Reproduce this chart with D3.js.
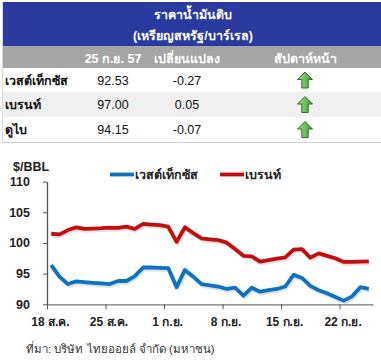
<!DOCTYPE html>
<html>
<head>
<meta charset="utf-8">
<script src="https://cdn.jsdelivr.net/npm/d3@7"></script>
<style>
  body { margin: 0; background: #fff; }
  svg { display: block; font-family: Tahoma, Arial, "Liberation Sans", sans-serif; }
</style>
</head>
<body>
<svg id="chart" width="381" height="362"></svg>
<script>
// table data
const tableHead = ["25 ก.ย. 57", "เปลี่ยนแปลง", "สัปดาห์หน้า"];
const tableNames = ["เวสต์เท็กซัส", "เบรนท์", "ดูไบ"];
const tablePrice = ["92.53", "97.00", "94.15"];
const tableChange = ["-0.27", "0.05", "-0.07"];
const tableTrend = ["up", "up", "up"];

// chart data: daily, 18 Aug - 25 Sep 2014
const startDay = new Date(2014, 7, 18);
const endDay = new Date(2014, 8, 26);
const wti = [96.4, 94.5, 93.3, 93.75, 93.6, 93.5, 93.4, 93.3, 93.8, 93.8,
             94.6, 96.0, 96.0, 95.95, 95.9, 92.8, 95.6, 94.5, 93.3, 93.1,
             92.9, 92.5, 92.7, 91.4, 92.7, 92.05, 92.3, 92.5, 92.9, 94.8,
             94.3, 93.0, 92.3, 91.8, 91.2, 90.6, 91.3, 92.8, 92.53];
const brent = [101.5, 101.4, 102.1, 102.55, 102.3, 102.35, 102.4, 102.5, 102.45, 102.65,
               102.3, 103.1, 103.0, 102.9, 102.65, 100.2, 102.55, 101.6, 100.75, 100.6,
               100.45, 100.05, 99.0, 97.9, 97.8, 96.95, 97.2, 97.45, 97.65, 98.9,
               99.0, 97.6, 98.3, 97.9, 97.5, 96.9, 96.9, 96.95, 97.0];
const yTicks = [90, 95, 100, 105, 110];
const xTickDates = [new Date(2014, 7, 18), new Date(2014, 7, 25), new Date(2014, 8, 1),
                    new Date(2014, 8, 8), new Date(2014, 8, 15), new Date(2014, 8, 22)];
const xTickLabels = ["18 ส.ค.", "25 ส.ค.", "1 ก.ย.", "8 ก.ย.", "15 ก.ย.", "22 ก.ย."];
const seriesNames = ["เวสต์เท็กซัส", "เบรนท์"];
const seriesColors = ["#0b72c4", "#c40d0d"];

const svg = d3.select("#chart");

// #Table
{
    const left = 2, right = 381
        , colX = [113, 187, 305]
        , rowY = [68, 92, 117, 142];

    svg.append("rect")
        .attr("x", left).attr("y", 2)
        .attr("width", right - left).attr("height", 44)
        .attr("fill", "#2b3a9e");
    svg.append("rect")
        .attr("x", left).attr("y", 46)
        .attr("width", right - left).attr("height", 22)
        .attr("fill", "#a5a5a5");
    svg.append("rect")
        .attr("x", left).attr("y", rowY[1])
        .attr("width", right - left).attr("height", rowY[2] - rowY[1])
        .attr("fill", "#f0f0f0");
    svg.append("line")
        .attr("x1", left).attr("x2", right)
        .attr("y1", 142.5).attr("y2", 142.5)
        .attr("stroke", "#cfcfcf");
    svg.append("line")
        .attr("x1", left + 0.5).attr("x2", left + 0.5)
        .attr("y1", 2).attr("y2", 143)
        .attr("stroke", "#d8d8d8");

    const title = svg.append("g")
        .attr("fill", "#fff")
        .attr("font-weight", "bold")
        .attr("font-size", 12.5)
        .attr("text-anchor", "middle");
    title.append("text").attr("x", 193).attr("y", 19).text("ราคาน้ำมันดิบ");
    title.append("text").attr("x", 193).attr("y", 40).text("(เหรียญสหรัฐ/บาร์เรล)");

    svg.selectAll(".head")
        .data(tableHead)
        .enter().append("text")
        .attr("class", "head")
        .attr("x", (d, i) => colX[i])
        .attr("y", 63)
        .attr("text-anchor", "middle")
        .attr("fill", "#fff")
        .attr("font-weight", "bold")
        .attr("font-size", 12.5)
        .text(d => d);

    const rows = svg.selectAll(".row")
        .data(tableNames)
        .enter().append("g")
        .attr("class", "row")
        .attr("transform", (d, i) => "translate(0," + ((rowY[i] + rowY[i + 1]) / 2) + ")");
    rows.append("text")
        .attr("x", 5).attr("y", 4.5)
        .attr("font-weight", "bold").attr("font-size", 12.5)
        .attr("fill", "#111")
        .text(d => d);
    rows.append("text")
        .attr("x", colX[0]).attr("y", 4.5)
        .attr("text-anchor", "middle").attr("font-size", 12.5)
        .attr("fill", "#111")
        .text((d, i) => tablePrice[i]);
    rows.append("text")
        .attr("x", colX[1]).attr("y", 4.5)
        .attr("text-anchor", "middle").attr("font-size", 12.5)
        .attr("fill", "#111")
        .text((d, i) => tableChange[i]);

    // green arrows
    const defs = svg.append("defs");
    const grad = defs.append("linearGradient")
        .attr("id", "arrowGrad")
        .attr("x1", 0).attr("x2", 1).attr("y1", 0).attr("y2", 0);
    grad.append("stop").attr("offset", "0%").attr("stop-color", "#a6dc8e");
    grad.append("stop").attr("offset", "100%").attr("stop-color", "#3f9c3a");
    rows.filter((d, i) => tableTrend[i] === "up")
        .append("path")
        .attr("transform", "translate(" + colX[2] + ",0)")
        .attr("d", "M0,-8 L7.5,-0.5 L3.2,-0.5 L3.2,8 L-3.2,8 L-3.2,-0.5 L-7.5,-0.5 Z")
        .attr("fill", "url(#arrowGrad)")
        .attr("stroke", "#2c6e2a")
        .attr("stroke-width", 1);
}

// #Line Chart
{
    const x = d3.scaleTime()
            .domain([startDay, endDay])
            .range([47, 373])
        , y = d3.scaleLinear()
            .domain([90, 110])
            .range([304.3, 181.6])
        , days = d3.timeDays(startDay, endDay).map(d => d3.timeHour.offset(d, 12))
        , line = d3.line()
            .x((d, i) => x(days[i]))
            .y(d => y(d));

    // y axis
    const yAxis = d3.axisLeft(y)
        .tickValues(yTicks)
        .tickSize(4)
        .tickSizeOuter(0)
        .tickPadding(13)
        .tickFormat(d3.format("d"));
    const gy = svg.append("g")
        .attr("transform", "translate(47,0)")
        .call(yAxis);
    gy.select(".domain").attr("stroke", "#555").attr("stroke-width", 1.3);
    gy.selectAll(".tick line").attr("stroke", "#555");
    gy.selectAll(".tick text")
        .attr("font-size", 12.5)
        .attr("font-weight", "bold")
        .attr("font-family", "Arial, 'Liberation Sans', sans-serif")
        .attr("fill", "#222");

    // x axis
    const xAxis = d3.axisBottom(x)
        .tickValues(xTickDates)
        .tickSize(5)
        .tickSizeOuter(0)
        .tickPadding(8)
        .tickFormat((d, i) => xTickLabels[i]);
    const gx = svg.append("g")
        .attr("transform", "translate(0,304.3)")
        .call(xAxis);
    gx.select(".domain").attr("stroke", "#777").attr("stroke-width", 1.3);
    gx.selectAll(".tick line").attr("stroke", "#555");
    gx.selectAll(".tick text")
        .attr("dx", 3)
        .attr("font-size", 12)
        .attr("font-weight", "bold")
        .attr("fill", "#222");

    svg.append("text")
        .attr("x", 13).attr("y", 171)
        .attr("font-family", "Arial, 'Liberation Sans', sans-serif")
        .attr("font-size", 12.5).attr("font-weight", "bold")
        .attr("fill", "#222")
        .text("$/BBL");

    // shadows then lines
    [wti, brent].forEach((s, k) => {
        svg.append("path")
            .datum(s)
            .attr("d", line)
            .attr("transform", "translate(1,2)")
            .attr("fill", "none")
            .attr("stroke", "#000")
            .attr("stroke-opacity", 0.12)
            .attr("stroke-width", 3.8)
            .attr("stroke-linejoin", "round");
        svg.append("path")
            .datum(s)
            .attr("d", line)
            .attr("fill", "none")
            .attr("stroke", seriesColors[k])
            .attr("stroke-width", 3.8)
            .attr("stroke-linejoin", "round");
    });

    // legend
    const legendX = [110, 220];
    const lg = svg.selectAll(".legend")
        .data(seriesNames)
        .enter().append("g")
        .attr("class", "legend")
        .attr("transform", (d, i) => "translate(" + legendX[i] + ",174.5)");
    lg.append("line")
        .attr("x1", 0).attr("x2", 24)
        .attr("stroke", (d, i) => seriesColors[i])
        .attr("stroke-width", 3.8);
    lg.append("text")
        .attr("x", 25).attr("y", 4.5)
        .attr("font-size", 12.5).attr("font-weight", "bold")
        .attr("fill", "#222")
        .text(d => d);

    svg.append("text")
        .attr("x", 26).attr("y", 353)
        .attr("font-size", 11.5)
        .attr("fill", "#333")
        .text("ที่มา: บริษัท ไทยออยล์ จำกัด (มหาชน)");
}
</script>
</body>
</html>
